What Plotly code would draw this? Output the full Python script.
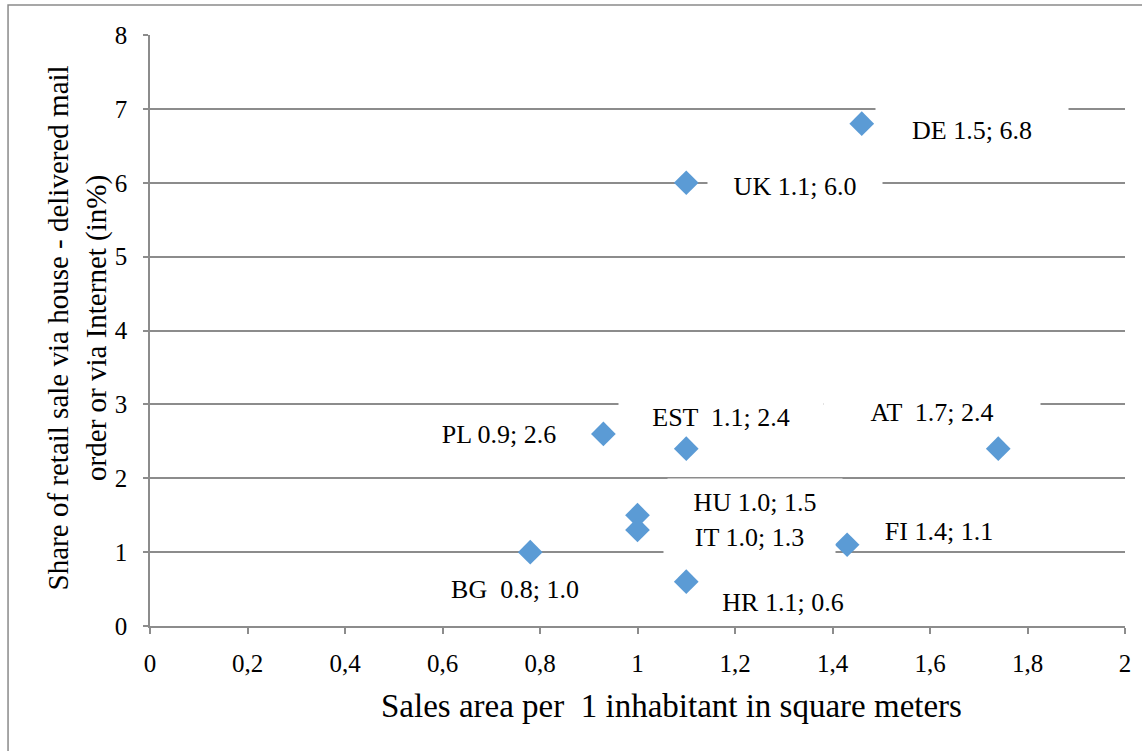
import plotly.graph_objects as go

# ---- data ----
countries = ["DE", "UK", "PL", "EST", "AT", "HU", "IT", "BG", "FI", "HR"]
sales_area = [1.46, 1.10, 0.93, 1.10, 1.74, 1.00, 1.00, 0.78, 1.43, 1.10]
share_pct = [6.8, 6.0, 2.6, 2.4, 2.4, 1.5, 1.3, 1.0, 1.1, 0.6]
label_texts = ["DE 1.5; 6.8", "UK 1.1; 6.0", "PL 0.9; 2.6", "EST  1.1; 2.4",
               "AT  1.7; 2.4", "HU 1.0; 1.5", "IT 1.0; 1.3", "BG  0.8; 1.0",
               "FI 1.4; 1.1", "HR 1.1; 0.6"]

# ---- label placement (pixel offsets from point, box size) ----
label_style = {
    "DE":  dict(xshift=110, yshift=-6,  w=192, h=44),
    "UK":  dict(xshift=109, yshift=-3,  w=174, h=44),
    "PL":  dict(xshift=-104, yshift=0,  w=164, h=34),
    "EST": dict(xshift=35,  yshift=32,  w=204, h=34),
    "AT":  dict(xshift=-66, yshift=37,  w=216, h=34),
    "HU":  dict(xshift=117, yshift=13,  w=174, h=46),
    "IT":  dict(xshift=112, yshift=-7,  w=171, h=36),
    "BG":  dict(xshift=-15, yshift=-37, w=170, h=34),
    "FI":  dict(xshift=92,  yshift=14,  w=150, h=28),
    "HR":  dict(xshift=97,  yshift=-20, w=160, h=34),
}

FONT = "Liberation Serif, Times New Roman, serif"
GRID = "#8c8c8c"

fig = go.Figure()
fig.add_trace(go.Scatter(
    x=sales_area, y=share_pct, mode="markers",
    marker=dict(symbol="diamond", size=19, color="#5B9BD5"),
    text=countries, hoverinfo="text", showlegend=False,
))

annotations = []
for c, xv, yv, t in zip(countries, sales_area, share_pct, label_texts):
    s = label_style[c]
    annotations.append(dict(
        x=xv, y=yv, xref="x", yref="y", text=t, showarrow=False,
        xshift=s["xshift"], yshift=s["yshift"], width=s["w"], height=s["h"],
        bgcolor="white", borderpad=0, xanchor="center", yanchor="middle",
        font=dict(family=FONT, size=26, color="black"),
    ))

# axis titles
annotations.append(dict(
    text="Sales area per  1 inhabitant in square meters",
    xref="paper", yref="paper", x=0.535, y=-0.136, xanchor="center", yanchor="middle",
    showarrow=False, font=dict(family=FONT, size=33, color="black"),
))
annotations.append(dict(
    text="Share of retail sale via house - delivered mail<br>order or via Internet (in%)",
    xref="paper", yref="paper", x=-0.074, y=0.505, xanchor="center", yanchor="middle",
    textangle=-90, showarrow=False, font=dict(family=FONT, size=29, color="black"),
))

fig.update_layout(
    width=1142, height=751,
    margin=dict(l=150, r=17, t=35, b=125),
    paper_bgcolor="white", plot_bgcolor="white",
    separators=", ",
    font=dict(family=FONT, size=25, color="black"),
    annotations=annotations,
    shapes=[dict(type="rect", xref="paper", yref="paper",
                 x0=-0.1456, x1=1.2, y0=-0.4, y1=1.0508,
                 line=dict(color="#8a8a8a", width=1.5), fillcolor="rgba(0,0,0,0)",
                 layer="below")],
    xaxis=dict(range=[0, 2], dtick=0.2, tick0=0, showgrid=False,
               showline=True, linecolor=GRID, linewidth=1.5,
               ticks="outside", ticklen=6, tickcolor=GRID, tickwidth=1.5,
               ticklabelstandoff=8, zeroline=False,
               tickfont=dict(family=FONT, size=25)),
    yaxis=dict(range=[0, 8], dtick=1, tick0=0, showgrid=True, gridcolor=GRID, gridwidth=1.5,
               showline=True, linecolor=GRID, linewidth=1.5,
               ticks="outside", ticklen=5, tickcolor=GRID, tickwidth=1.5,
               ticklabelstandoff=11, zeroline=False,
               tickfont=dict(family=FONT, size=25)),
)

fig.write_html("out.html", config={"displayModeBar": False},
               post_script="document.body.style.margin='0px';")
